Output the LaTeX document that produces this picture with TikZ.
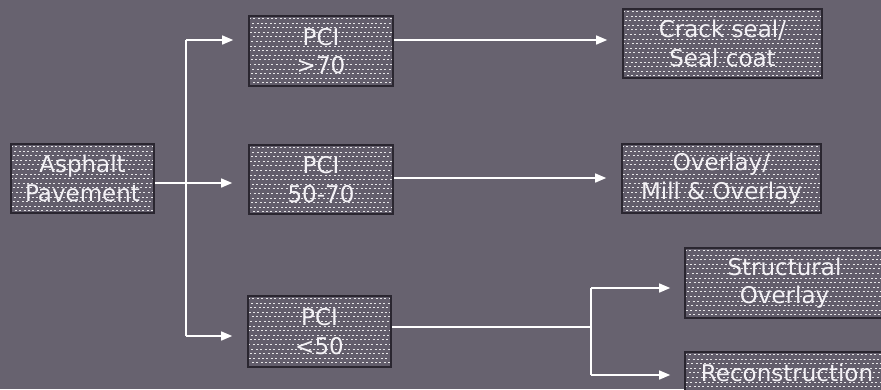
\documentclass[tikz,border=0pt]{standalone}
\usepackage{fontspec}
\setmainfont{DejaVu Sans}
\usetikzlibrary{arrows.meta}
\definecolor{bg}{HTML}{67626F}
\definecolor{boxbase}{HTML}{625D6B}
\definecolor{boxedge}{HTML}{2A2630}
\definecolor{txt}{HTML}{F4F2F6}
\tikzset{
  pbox/.style={draw=boxedge, line width=1.6pt, fill=boxbase, inner sep=0pt,
    text=txt, font=\fontsize{23}{28.5}\selectfont, align=center,
    path picture={
      \foreach \k in {0,...,20}{
        \draw[white, opacity=0.85, line width=1pt,
              dash pattern=on 2pt off 2.4pt, dash phase=\k*1.3pt]
          ([yshift=-2.5pt-\k*4.6pt]path picture bounding box.north west) --
          ([yshift=-2.5pt-\k*4.6pt]path picture bounding box.north east);
      }
    }},
  conn/.style={draw=white, line width=1.4pt},
  arr/.style={conn, -{Triangle[length=11pt,width=9pt]}}
}
\begin{document}
\begin{tikzpicture}[x=1pt,y=-1pt]
\useasboundingbox (0,0) rectangle (881,389);
\fill[bg] (0,0) rectangle (881,389);
\clip (0,0) rectangle (881,389);
\node[pbox, minimum width=143pt, minimum height=69pt] (asph) at (82.5,178.5) {Asphalt\\Pavement};
\node[pbox, minimum width=144pt, minimum height=70pt] (p1) at (321,51) {PCI\\>70};
\node[pbox, minimum width=144pt, minimum height=69pt] (p2) at (321,179.5) {PCI\\50-70};
\node[pbox, minimum width=143pt, minimum height=71pt] (p3) at (319.5,331.5) {PCI\\<50};
\node[pbox, minimum width=199pt, minimum height=69pt] (crack) at (722.5,43.5) {Crack seal/\\Seal coat};
\node[pbox, minimum width=199pt, minimum height=69pt] (over) at (721.5,178.5) {Overlay/\\Mill \& Overlay};
\node[pbox, minimum width=199pt, minimum height=70pt] (struct) at (784.5,283) {Structural\\Overlay};
\node[pbox, minimum width=199pt, minimum height=70pt, text depth=0pt] (recon) at (784.5,387) {};
\node[text=txt, font=\fontsize{23}{28.5}\selectfont, anchor=base] (recont) at (787,381) {Reconstruction};
% branch from asphalt
\coordinate (b1) at (186,40);
\coordinate (b3) at (186,336);
\coordinate (j) at (186,183);
\draw[arr, shorten >=16pt] ([yshift=-4.5pt]asph.east) -- (p2.west |- j);
\draw[conn] (b1) -- (b3);
\draw[arr, shorten >=15pt] (b1) -- (p1.west |- b1);
\draw[arr, shorten >=15pt] (b3) -- (p3.west |- b3);
% outputs
\draw[arr, shorten >=15pt] ([yshift=11pt]p1.east) -- ([yshift=11pt]p1.east -| crack.west);
\draw[arr, shorten >=15pt] ([yshift=1.5pt]p2.east) -- ([yshift=1.5pt]p2.east -| over.west);
\coordinate (s) at (591,327);
\coordinate (s1) at (591,288);
\coordinate (s2) at (591,375);
\draw[conn] ([yshift=4.5pt]p3.east) -- (s);
\draw[conn] (s1) -- (s2);
\draw[arr, shorten >=14pt] (s1) -- (struct.west |- s1);
\draw[arr, shorten >=14pt] (s2) -- (recon.west |- s2);
\end{tikzpicture}
\end{document}
